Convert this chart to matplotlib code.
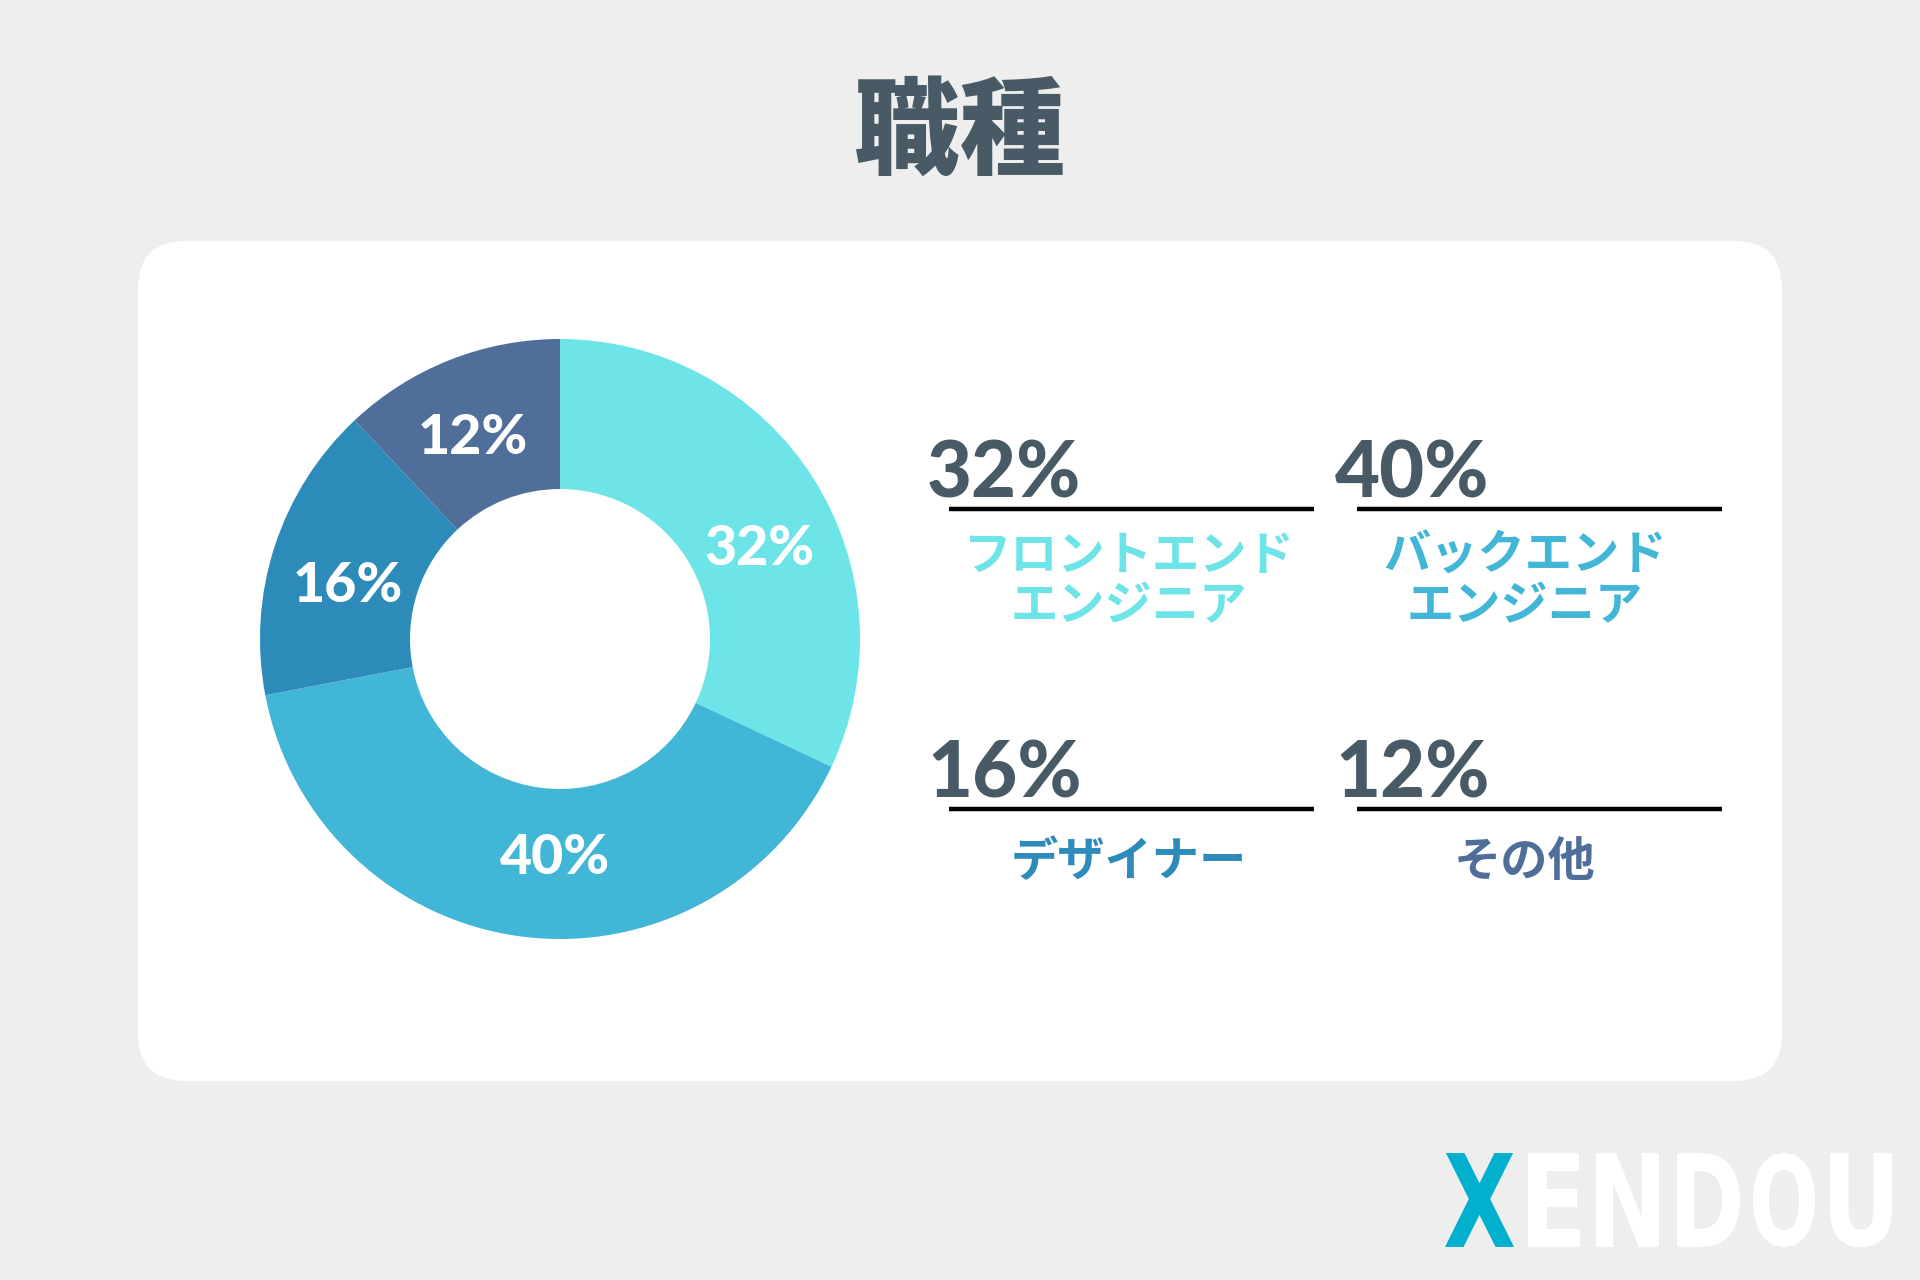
import matplotlib
matplotlib.use("Agg")
import matplotlib.pyplot as plt
from matplotlib.patches import FancyBboxPatch, PathPatch
from matplotlib.textpath import TextPath
from matplotlib.font_manager import FontProperties
from matplotlib.transforms import Affine2D
import numpy as np

# ===================== DATA =====================
title     = "職種"
labels    = ["フロントエンド\nエンジニア", "バックエンド\nエンジニア", "デザイナー", "その他"]
shares    = [32, 40, 16, 12]
colors    = ["#6ce4e8", "#42b6d6", "#2d8bba", "#4f6e99"]
# ================================================

BG, CARD, INK = "#eeeeee", "#ffffff", "#475a66"
JP = ["Noto Sans CJK JP", "DejaVu Sans"]
NUM = ["Lato", "DejaVu Sans"]

W, H = 1920, 1280
fig = plt.figure(figsize=(W / 100, H / 100), dpi=100, facecolor=BG)

# background layer in pixel coords (y down)
bg = fig.add_axes([0, 0, 1, 1])
bg.set_xlim(0, W); bg.set_ylim(H, 0); bg.axis("off")
bg.add_patch(FancyBboxPatch((138 + 48, 241 + 48), 1644 - 96, 840 - 96,
                            boxstyle="round,pad=48", fc=CARD, ec="none"))

bg.text(W / 2, 134, title, ha="center", va="center", fontsize=76,
        fontweight="heavy", color=INK, family=JP)

# legend blocks: 2x2 grid
line_x = [949, 1357]
label_cx = [1129, 1525]
rows = [509, 809]
for i, (lab, v, c) in enumerate(zip(labels, shares, colors)):
    col, row = i % 2, i // 2
    x0, y0 = line_x[col], rows[row]
    bg.plot([x0, x0 + 365], [y0, y0], color="black", lw=3.2, solid_capstyle="butt")
    bg.text(x0 - 22, y0 - 12, f"{v}%", ha="left", va="baseline", fontsize=56,
            fontweight="black", color=INK, family=NUM)
    dy = 72 if "\n" in lab else 53
    bg.text(label_cx[col], y0 + dy, lab, ha="center", va="center",
            fontsize=34, fontweight="bold", color=c, family=JP, linespacing=1.07)

# logo, letters stretched into stencil-like condensed boxes
logo = "XENDOU"
logo_cols = ["#00b0cc", "white", "white", "white", "white", "white"]
logo_x = [(1445, 1514), (1528, 1580), (1596, 1659), (1677, 1740), (1753, 1815), (1830, 1892)]
fp = FontProperties(family="DejaVu Sans", weight="bold")
for ch, c, (xa, xb) in zip(logo, logo_cols, logo_x):
    tp = TextPath((0, 0), ch, size=100, prop=fp)
    bb = tp.get_extents()
    ya, yb = 1153, 1247
    tr = Affine2D().translate(-bb.x0, -bb.y0).scale((xb - xa) / bb.width,
                                                   -(yb - ya) / bb.height).translate(xa, yb)
    bg.add_patch(PathPatch(tr.transform_path(tp), fc=c, ec="none"))

# donut
ax = fig.add_axes([260 / W, 1 - 939 / H, 600 / W, 600 / H])
wedges, _ = ax.pie(shares, colors=colors, startangle=90, counterclock=False,
                   radius=1.0, wedgeprops=dict(width=0.5, edgecolor="none"))
ax.set_xlim(-1, 1); ax.set_ylim(-1, 1); ax.set_aspect("equal")
nudge = [-8, 6, 4, 2]      # degrees, label placement tweak per wedge
for w, v, n in zip(wedges, shares, nudge):
    ang = np.deg2rad((w.theta1 + w.theta2) / 2 + n)
    ax.text(0.73 * np.cos(ang), 0.73 * np.sin(ang), f"{v}%", ha="center", va="center",
            fontsize=40, fontweight="black", color="white", family=NUM)

fig.savefig("out.png", dpi=100, facecolor=BG)
